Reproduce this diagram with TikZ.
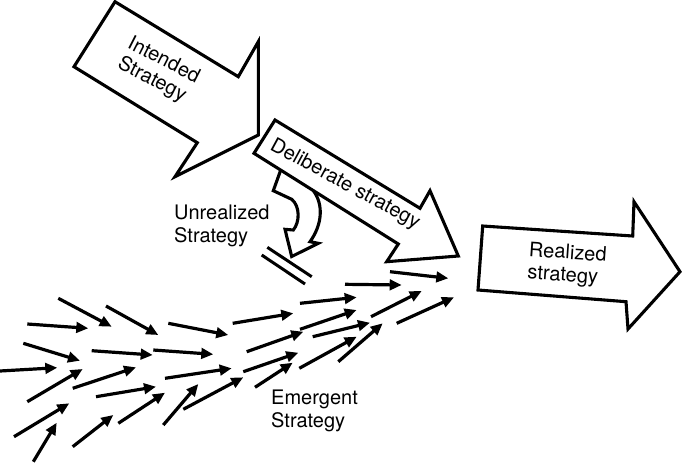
\documentclass[tikz,border=0pt]{standalone}
\usepackage{fontspec}
\setmainfont{TeX Gyre Heros}
\usetikzlibrary{arrows.meta}
\begin{document}
\begin{tikzpicture}[x=1pt,y=-1pt,
  bigarrow/.style={draw=black, line width=3.1pt, fill=white, line join=miter},
  smallarrow/.style={line width=3.2pt, -{Triangle[length=12pt,width=10.5pt]}},
  lbl/.style={font=\fontsize{20}{22.5}\selectfont, inner sep=0pt, align=left}]
\useasboundingbox (0,0) rectangle (682,464);

% Intended strategy arrow
\draw[bigarrow] (115,1.7) -- (238.3,76.7) -- (258.3,41.7) -- (258.3,135) -- (175,176.7) -- (197.3,142.7) -- (74,66.7) -- cycle;
\node[lbl, rotate=-27] (intended) at (158.5,71) {Intended\\Strategy};

% Unrealized curved arrow (hanging from the deliberate arrow)
\draw[bigarrow] (280.7,170.1) -- (273.3,190.7) -- (291.7,199.3)
  .. controls (300,206) and (300,222) .. (293.3,230) -- (285,229.3) -- (291.7,256.5)
  -- (318.3,243.3) -- (310,241.7) .. controls (322,225) and (324,205) .. (313.3,190.6);

% Deliberate strategy arrow
\draw[bigarrow] (275,120) -- (420,208.3) -- (430,190.7) -- (458.3,256) -- (386.7,261.7) -- (398.3,244) -- (254,153.3) -- cycle;
\node[lbl, rotate=-28.5] (deliberate) at (345,184.5) {Deliberate strategy};

% Realized strategy arrow
\draw[bigarrow] (482.7,226) -- (632.7,236) -- (634,201.7) -- (680,271.7) -- (628,329) -- (626,301.7) -- (478,290) -- cycle;
\node[lbl, rotate=-4] (realized) at (567,265) {Realized\\strategy};

% Unrealized label and barrier
\node[lbl, anchor=north west] (unrealized) at (174,205) {Unrealized\\Strategy};
\draw[line width=3pt] (267.3,247.3) -- (311.7,276.7);
\draw[line width=3pt] (261.7,255) -- (305,284);

% Emergent label
\node[lbl, anchor=north west] (emergent) at (271,390) {Emergent\\Strategy};

% Emergent small arrows
\foreach \xa/\ya/\xb/\yb in {
  58.3/298.3/111.7/326.7, 106/306/158.3/335, 27.3/324/88.3/328.3,
  23.3/343.3/80/360.7, 91.7/350.7/152.7/355, 0/371/57.3/367.7,
  27.3/401.7/82.7/369, 72.7/388.3/136/367.3, 96/396.7/156/386.7,
  14/436.7/69.3/403.3, 118.3/423.3/165/392.7, 72.7/446.7/113.3/415,
  33.3/461.7/56.7/422.7, 168.3/323.3/228.3/335, 232.7/323.3/293.3/313.3,
  153.3/350/213.3/354.3, 246.7/351.7/303.3/331.7, 165/378.3/231.7/368.3,
  243.3/371.7/298.3/352.7, 183.3/409.3/243.3/377.3, 255/387.3/292.7/362.7,
  163.3/425/198.3/384, 345/284.3/401.7/285, 390/271.7/448.3/278.3,
  300/303.3/356.7/297.3, 300/329.3/356.7/310, 312.7/336.7/370/322.7,
  299.3/368.3/356.7/336.7, 338.3/361.7/382.7/323.3, 371/316.7/421.7/291,
  396.7/323.3/454/297.3}
  \draw[smallarrow] (\xa,\ya) -- (\xb,\yb);
\end{tikzpicture}
\end{document}
